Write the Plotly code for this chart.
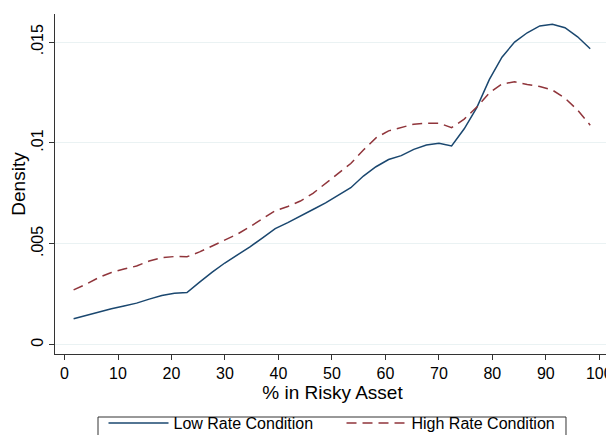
import plotly.graph_objects as go

pct_risky = [1.7, 4.06, 6.41, 8.77, 11.12, 13.48, 15.84, 18.19, 20.55, 22.9,
             25.26, 27.62, 29.97, 32.33, 34.68, 37.04, 39.4, 41.75, 44.11, 46.46,
             48.82, 51.18, 53.53, 55.89, 58.24, 60.6, 62.96, 65.31, 67.67, 70.02,
             72.38, 74.74, 77.09, 79.45, 81.8, 84.16, 86.52, 88.87, 91.23, 93.58,
             95.94, 98.3]

low_rate = [0.00129, 0.00146, 0.00163, 0.00178, 0.00192, 0.00206, 0.00226, 0.00244, 0.00255, 0.00259,
            0.00310, 0.00360, 0.00405, 0.00443, 0.00485, 0.00530, 0.00575, 0.00605, 0.00636, 0.00670,
            0.00703, 0.00740, 0.00778, 0.00836, 0.00882, 0.00918, 0.00937, 0.00968, 0.00990, 0.00998,
            0.00985, 0.01070, 0.01175, 0.01315, 0.01425, 0.01500, 0.01546, 0.01580, 0.01588, 0.01571,
            0.01526, 0.01467]

high_rate = [0.00272, 0.00300, 0.00333, 0.00358, 0.00375, 0.00390, 0.00415, 0.00431, 0.00437, 0.00436,
             0.00460, 0.00490, 0.00522, 0.00548, 0.00585, 0.00625, 0.00664, 0.00685, 0.00712, 0.00750,
             0.00800, 0.00850, 0.00898, 0.00965, 0.01025, 0.01060, 0.01078, 0.01093, 0.01098, 0.01098,
             0.01076, 0.01118, 0.01178, 0.01248, 0.01292, 0.01303, 0.01290, 0.01280, 0.01262, 0.01222,
             0.01163, 0.01088]

y_tickvals = [0, 0.005, 0.01, 0.015]
y_ticktext = ["0", ".005", ".01", ".015"]
x_tickvals = [0, 10, 20, 30, 40, 50, 60, 70, 80, 90, 100]

fig = go.Figure()
fig.add_trace(go.Scatter(x=pct_risky, y=low_rate, mode="lines", name="Low Rate Condition",
                         line=dict(color="#1a476f", width=1.5)))
fig.add_trace(go.Scatter(x=pct_risky, y=high_rate, mode="lines", name="High Rate Condition",
                         line=dict(color="#90353b", width=1.5, dash="10px,6px")))

font = dict(family="Liberation Sans, Arial, sans-serif", size=16, color="#000000")

# legend frame (decoration)
fig.add_shape(type="rect", xref="paper", yref="paper",
              x0=0.0775, x1=0.9207, y0=-0.26, y1=-0.1853,
              line=dict(color="#333333", width=1), fillcolor="rgba(0,0,0,0)")

fig.update_layout(
    width=606, height=427,
    margin=dict(l=47, r=4, t=6, b=81, autoexpand=False),
    paper_bgcolor="white", plot_bgcolor="white",
    font=font,
    showlegend=True,
    legend=dict(orientation="h", x=0.0874, xanchor="left", y=-0.153, yanchor="top",
                borderwidth=0, bgcolor="rgba(0,0,0,0)", font=font,
                entrywidth=163, entrywidthmode="pixels", itemwidth=60),
    xaxis=dict(range=[-1.78, 102], tickvals=x_tickvals, ticks="outside", ticklen=5,
               tickcolor="#333333", showline=True, linecolor="#333333", linewidth=1,
               showgrid=False, zeroline=False, automargin=False,
               title=dict(text="% in Risky Asset", standoff=0),
               tickfont=font),
    yaxis=dict(range=[-0.00046, 0.01639], tickvals=y_tickvals, ticktext=y_ticktext,
               tickangle=-90, ticks="outside", ticklen=5, tickcolor="#333333",
               showline=True, linecolor="#333333", linewidth=1, automargin=False,
               showgrid=True, gridcolor="#eaf2f3", gridwidth=1, zeroline=False,
               title=dict(text="Density", standoff=6), tickfont=font),
)

fig.write_html("out.html")
